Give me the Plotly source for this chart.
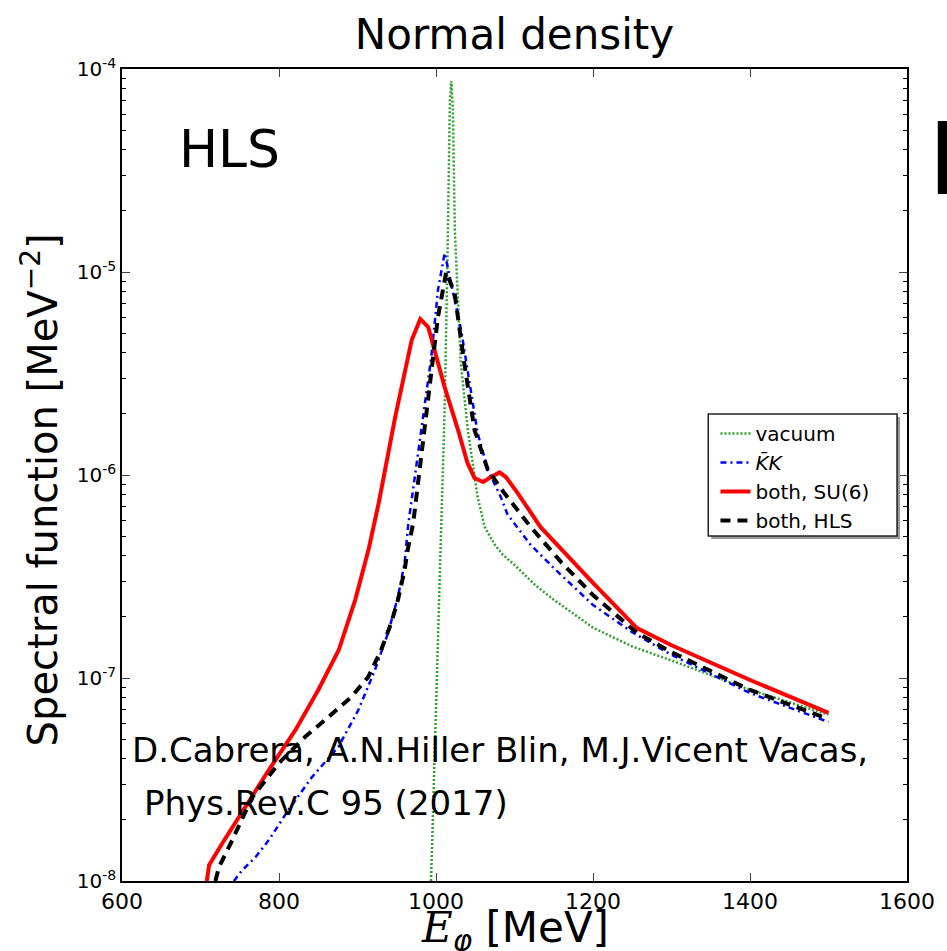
import plotly.graph_objects as go

# ---- data ----
E_vac = [993.7, 1006.3, 1011.4, 1015.2, 1017.7, 1019.5, 1021.5, 1024.0, 1031.6, 1040.5, 1053.0, 1062.0, 1075, 1085, 1100, 1125, 1150, 1200, 1250, 1300, 1400, 1500]
S_vac = [1.0e-8, 5.55e-7, 2.42e-6, 1.61e-5, 7.03e-5, 8.73e-5, 6.28e-5, 1.61e-5, 3.56e-6, 1.67e-6, 7.80e-7, 5.55e-7, 4.53e-7, 4.05e-7, 3.61e-7, 2.90e-7, 2.43e-7, 1.77e-7, 1.43e-7, 1.22e-7, 8.75e-8, 6.60e-8]

E_kk = [742.6, 753, 770, 787, 812, 842, 875.5, 901, 922, 939, 951.5, 960, 964.6, 981.4, 994, 1002.5, 1011, 1032, 1053, 1066, 1082.5, 1091, 1120, 1150, 1200, 1250, 1300, 1400, 1500]
S_kk = [1.0e-8, 1.13e-8, 1.31e-8, 1.59e-8, 2.24e-8, 3.25e-8, 4.57e-8, 6.95e-8, 1.09e-7, 1.67e-7, 2.51e-7, 3.69e-7, 5.68e-7, 1.67e-6, 3.81e-6, 8.15e-6, 1.24e-5, 5.18e-6, 1.61e-6, 1.06e-6, 7.80e-7, 6.40e-7, 4.55e-7, 3.48e-7, 2.29e-7, 1.68e-7, 1.30e-7, 8.43e-8, 6.07e-8]

E_su6 = [708, 711, 728, 757, 787, 821, 850, 876, 897, 914, 927, 948, 969, 980, 990, 998, 1011, 1028, 1040, 1049, 1060, 1070, 1081, 1089, 1104, 1133, 1200, 1256, 1300, 1400, 1500]
S_su6 = [1.0e-8, 1.20e-8, 1.54e-8, 2.32e-8, 3.52e-8, 5.55e-8, 8.73e-8, 1.37e-7, 2.42e-7, 4.28e-7, 7.28e-7, 1.93e-6, 4.62e-6, 5.86e-6, 5.36e-6, 4.13e-6, 2.71e-6, 1.67e-6, 1.15e-6, 9.66e-7, 9.24e-7, 9.77e-7, 1.03e-6, 9.77e-7, 8.15e-7, 5.55e-7, 2.94e-7, 1.76e-7, 1.45e-7, 9.78e-8, 6.73e-8]

E_hls = [719, 723.5, 740.5, 766, 800, 833, 863, 892, 913.5, 930, 943, 951.5, 960, 964, 971, 990, 1002.5, 1013, 1023.6, 1036, 1049, 1066, 1087, 1120.6, 1160, 1200, 1256, 1300, 1400, 1500]
S_hls = [1.0e-8, 1.17e-8, 1.59e-8, 2.59e-8, 3.81e-8, 5.12e-8, 6.42e-8, 8.06e-8, 1.01e-7, 1.37e-7, 1.87e-7, 2.42e-7, 3.40e-7, 4.28e-7, 5.81e-7, 2.34e-6, 6.00e-6, 1.0e-5, 7.89e-6, 3.56e-6, 1.67e-6, 1.06e-6, 8.15e-7, 5.55e-7, 3.70e-7, 2.56e-7, 1.67e-7, 1.34e-7, 8.73e-8, 6.28e-8]

x_ticks = [600, 800, 1000, 1200, 1400, 1600]
y_ticks = [1e-8, 1e-7, 1e-6, 1e-5, 1e-4]
y_ticktext = ["10<sup>-8</sup>", "10<sup>-7</sup>", "10<sup>-6</sup>", "10<sup>-5</sup>", "10<sup>-4</sup>"]
y_minor = [m * 10.0 ** e for e in range(-8, -4) for m in range(2, 10)]

FONT = "DejaVu Sans"

fig = go.Figure()
fig.add_trace(go.Scatter(x=E_vac, y=S_vac, mode="lines", name="vacuum",
                         line=dict(color="#2ca02c", width=2.5, dash="2px,2px")))
fig.add_trace(go.Scatter(x=E_kk, y=S_kk, mode="lines", name="<i>K̄K</i>",
                         line=dict(color="#0000ff", width=2.5, dash="6px,4px,2px,4px")))
fig.add_trace(go.Scatter(x=E_su6, y=S_su6, mode="lines", name="both, SU(6)",
                         line=dict(color="#ff0000", width=4)))
fig.add_trace(go.Scatter(x=E_hls, y=S_hls, mode="lines", name="both, HLS",
                         line=dict(color="#000000", width=4, dash="10px,7px")))

# legend frame with drop shadow (legend itself drawn transparent on top)
fig.add_shape(type="rect", xref="paper", yref="paper",
              x0=0.7506, x1=0.9911, y0=0.4212, y1=0.5714,
              fillcolor="#999999", line=dict(width=0), layer="above")
fig.add_shape(type="rect", xref="paper", yref="paper",
              x0=0.7468, x1=0.9873, y0=0.4249, y1=0.5751,
              fillcolor="white", line=dict(width=1.5, color="#222222"), layer="above")

fig.update_layout(
    width=947, height=951,
    margin=dict(l=122, r=35, t=69, b=70),
    paper_bgcolor="white", plot_bgcolor="white",
    font=dict(family=FONT, color="black", size=22),
    showlegend=True,
    legend=dict(x=0.756, y=0.575, xanchor="left", yanchor="top",
                bgcolor="rgba(0,0,0,0)", borderwidth=0,
                font=dict(size=20, family=FONT), tracegroupgap=0, itemwidth=30),
    title=dict(text="Normal density", x=0.5, xref="paper", xanchor="center",
               y=0.964, yref="container", yanchor="middle",
               font=dict(size=42, family=FONT)),
    xaxis=dict(range=[600, 1600], tickvals=x_ticks, ticks="inside", ticklen=8,
               tickwidth=1, mirror="allticks", showline=True, linecolor="black",
               linewidth=1.5, showgrid=False, zeroline=False,
               tickfont=dict(size=22, family=FONT)),
    yaxis=dict(type="log", range=[-8, -4], tickvals=y_ticks, ticktext=y_ticktext,
               ticks="inside", ticklen=8, tickwidth=1, mirror="allticks",
               showline=True, linecolor="black", linewidth=1.5, showgrid=False,
               zeroline=False, tickfont=dict(size=20, family=FONT),
               minor=dict(tickvals=y_minor, ticks="inside", ticklen=4, tickcolor="black")),
)

fig.add_annotation(text="Spectral function [MeV<sup>−2</sup>]", xref="paper", yref="paper",
                   x=-0.104, y=0.4815, textangle=-90, showarrow=False,
                   font=dict(size=40, family=FONT), xanchor="center", yanchor="middle")
fig.add_annotation(text="<span style=\"font-family:DejaVu Serif\"><i>E</i></span><sub><i>φ</i></sub> [MeV]",
                   xref="paper", yref="paper",
                   x=0.5, y=-0.061, showarrow=False,
                   font=dict(size=42, family=FONT), xanchor="center", yanchor="middle")
fig.add_annotation(text="HLS", xref="paper", yref="paper", x=0.07, y=0.9015,
                   showarrow=False, font=dict(size=52, family=FONT),
                   xanchor="left", yanchor="middle")
fig.add_annotation(text="D.Cabrera, A.N.Hiller Blin, M.J.Vicent Vacas,", xref="paper", yref="paper",
                   x=0.01, y=0.1613, showarrow=False, font=dict(size=34, family=FONT),
                   xanchor="left", yanchor="middle")
fig.add_annotation(text="Phys.Rev.C 95 (2017)", xref="paper", yref="paper",
                   x=0.026, y=0.096, showarrow=False, font=dict(size=34, family=FONT),
                   xanchor="left", yanchor="middle")
fig.add_annotation(text="H", xref="paper", yref="paper", x=1.024, y=0.889,
                   showarrow=False, font=dict(size=100, family=FONT),
                   xanchor="left", yanchor="middle")

fig.write_html("out.html")
